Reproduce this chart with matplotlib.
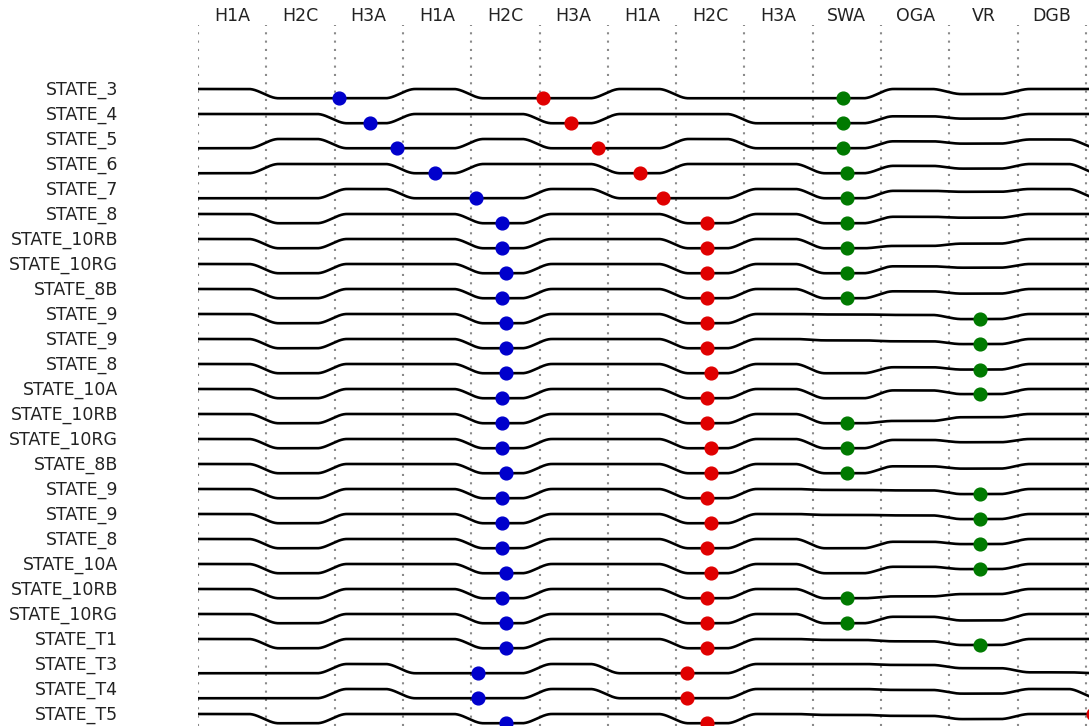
import numpy as np
import matplotlib
matplotlib.use("Agg")
import matplotlib.pyplot as plt

# Column headers (one per phase)
columns = ["H1A", "H2C", "H3A", "H1A", "H2C", "H3A", "H1A", "H2C", "H3A",
           "SWA", "OGA", "VR", "DGB"]

# Row names, top to bottom
states = ["STATE_3", "STATE_4", "STATE_5", "STATE_6", "STATE_7", "STATE_8",
          "STATE_10RB", "STATE_10RG", "STATE_8B", "STATE_9", "STATE_9", "STATE_8",
          "STATE_10A", "STATE_10RB", "STATE_10RG", "STATE_8B", "STATE_9", "STATE_9",
          "STATE_8", "STATE_10A", "STATE_10RB", "STATE_10RG", "STATE_T1", "STATE_T3",
          "STATE_T4", "STATE_T5"]

# Signal level per column for every row (0 = high, 1 = low); last entry is the
# column that continues past DGB
state_levels = [
    [0, 1, 1, 0, 1, 1, 0, 1, 1, 1, 0.00, 0.55, 0.00, 0],
    [0, 0, 1, 0, 0, 1, 0, 0, 1, 1, 0.25, 0.50, 0.00, 0],
    [1, 0, 1, 1, 0, 1, 1, 0, 1, 1, 0.25, 0.50, 0.05, 1],
    [1, 0, 0, 1, 0, 0, 1, 0, 0, 1, 0.20, 0.50, 0.00, 1],
    [1, 1, 0, 1, 1, 0, 1, 1, 0, 1, 0.20, 0.30, 0.00, 1],
    [0, 1, 0, 0, 1, 0, 0, 1, 0, 1, 0.30, 0.40, 0.00, 0],
    [0, 1, 0, 0, 1, 0, 0, 1, 0, 1, 0.75, 0.50, 0.00, 0],
    [0, 1, 0, 0, 1, 0, 0, 1, 0, 1, 0.25, 0.40, 0.00, 0],
    [0, 1, 0, 0, 1, 0, 0, 1, 0, 1, 0.25, 0.50, 0.00, 0],
    [0, 1, 0, 0, 1, 0, 0, 1, 0, 0.05, 0.10, 0.55, 0.00, 0],
    [0, 1, 0, 0, 1, 0, 0, 1, 0, 0.15, 0.25, 0.55, 0.00, 0],
    [0, 1, 0, 0, 1, 0, 0, 1, 0, 1, 0.35, 0.60, 0.00, 0],
    [0, 1, 0, 0, 1, 0, 0, 1, 0, 1, 0.15, 0.55, 0.00, 0],
    [0, 1, 0, 0, 1, 0, 0, 1, 0, 1, 0.75, 0.35, 0.00, 0],
    [0, 1, 0, 0, 1, 0, 0, 1, 0, 1, 0.10, 0.35, 0.00, 0],
    [0, 1, 0, 0, 1, 0, 0, 1, 0, 1, 0.25, 0.50, 0.00, 0],
    [0, 1, 0, 0, 1, 0, 0, 1, 0, 0.10, 0.15, 0.55, 0.00, 0],
    [0, 1, 0, 0, 1, 0, 0, 1, 0, 0.10, 0.15, 0.55, 0.00, 0],
    [0, 1, 0, 0, 1, 0, 0, 1, 0, 1, 0.30, 0.55, 0.00, 0],
    [0, 1, 0, 0, 1, 0, 0, 1, 0, 1, 0.30, 0.55, 0.00, 0],
    [0, 1, 0, 0, 1, 0, 0, 1, 0, 1, 0.80, 0.55, 0.00, 0],
    [0, 1, 0, 0, 1, 0, 0, 1, 0, 1, 0.30, 0.70, 0.00, 0],
    [0, 1, 0, 0, 1, 0, 0, 1, 0, 0.10, 0.25, 0.65, 0.00, 0],
    [1, 1, 0, 1, 1, 0, 1, 1, 0, 0, 0.10, 0.45, 0.90, 1],
    [1, 1, 0, 1, 1, 0, 1, 1, 0, 0, 0.10, 0.50, 0.00, 1],
    [0, 1, 0, 0, 1, 0, 0, 1, 0, 0.10, 0.20, 0.55, 0.00, 0],
]

# Event times (in column units) for each row; None = no event
blue_events = [2.06, 2.52, 2.91, 3.47, 4.07, 4.45, 4.45, 4.51, 4.45, 4.51,
               4.51, 4.51, 4.45, 4.45, 4.45, 4.51, 4.45, 4.45, 4.45, 4.51,
               4.45, 4.51, 4.51, 4.10, 4.10, 4.51]
red_events = [5.05, 5.46, 5.86, 6.47, 6.81, 7.45, 7.45, 7.45, 7.45, 7.45,
              7.45, 7.51, 7.45, 7.45, 7.51, 7.51, 7.45, 7.51, 7.45, 7.51,
              7.45, 7.45, 7.45, 7.16, 7.16, 7.45]
green_events = [9.44, 9.44, 9.44, 9.50, 9.50, 9.50, 9.50, 9.50, 9.50, 11.45,
                11.45, 11.45, 11.45, 9.50, 9.50, 9.50, 11.45, 11.45, 11.45, 11.45,
                9.50, 9.50, 11.45, None, None, None]
late_red_events = [None] * 25 + [13.10]

SWING = 0.37        # vertical swing of a signal, in row units
HALF_WIDTH = 0.22   # half width of a level change, in column units
SHIFT = -0.04       # level changes sit just before the column boundary


def smooth_step(t):
    u = np.clip((t + 1.0) / 2.0, 0.0, 1.0)
    return u * u * (3.0 - 2.0 * u)


def signal_curve(levels, xs):
    ys = np.full_like(xs, float(levels[0]))
    for k in range(1, len(levels)):
        ys += (levels[k] - levels[k - 1]) * smooth_step((xs - (k + SHIFT)) / HALF_WIDTH)
    return ys


fig = plt.figure(figsize=(10.89, 7.26), dpi=100)
n_cols = len(state_levels[0])
ax = fig.add_axes([198 / 1089, 0.0, n_cols * 68.3 / 1089, 1 - 25 / 726])
ax.set_xlim(0, n_cols)
ax.set_ylim(25.48, -2.56)

for k in range(n_cols + 1):
    ax.axvline(k, color="#8a8a8a", lw=1.5, linestyle=(0, (1, 3)), zorder=1)

xs = np.linspace(0, n_cols, 3000)
for i, levels in enumerate(state_levels):
    ys = i + SWING * signal_curve(levels, xs)
    ax.plot(xs, ys, color="black", lw=1.9, zorder=2, solid_capstyle="butt")
    for events, colour in ((blue_events, "#0000cc"), (red_events, "#e00000"),
                           (green_events, "#007a00"), (late_red_events, "#e00000")):
        ex = events[i]
        if ex is None:
            continue
        ey = np.interp(ex, xs, ys)
        ax.plot([ex], [ey], "o", ms=9.2, color=colour, mec=colour, zorder=3,
                clip_on=False)

ax.set_xticks(np.arange(len(columns)) + 0.5)
ax.set_xticklabels(columns)
ax.xaxis.tick_top()
ax.set_yticks(np.arange(len(states)) - 0.06)
ax.set_yticklabels(states)
ax.tick_params(axis="x", length=0, pad=0, labelsize=12.5, labelcolor="#222222")
ax.tick_params(axis="y", length=0, pad=57.6, labelsize=12.5, labelcolor="#222222")
for side in ax.spines.values():
    side.set_visible(False)

fig.savefig("out.png", dpi=100)
